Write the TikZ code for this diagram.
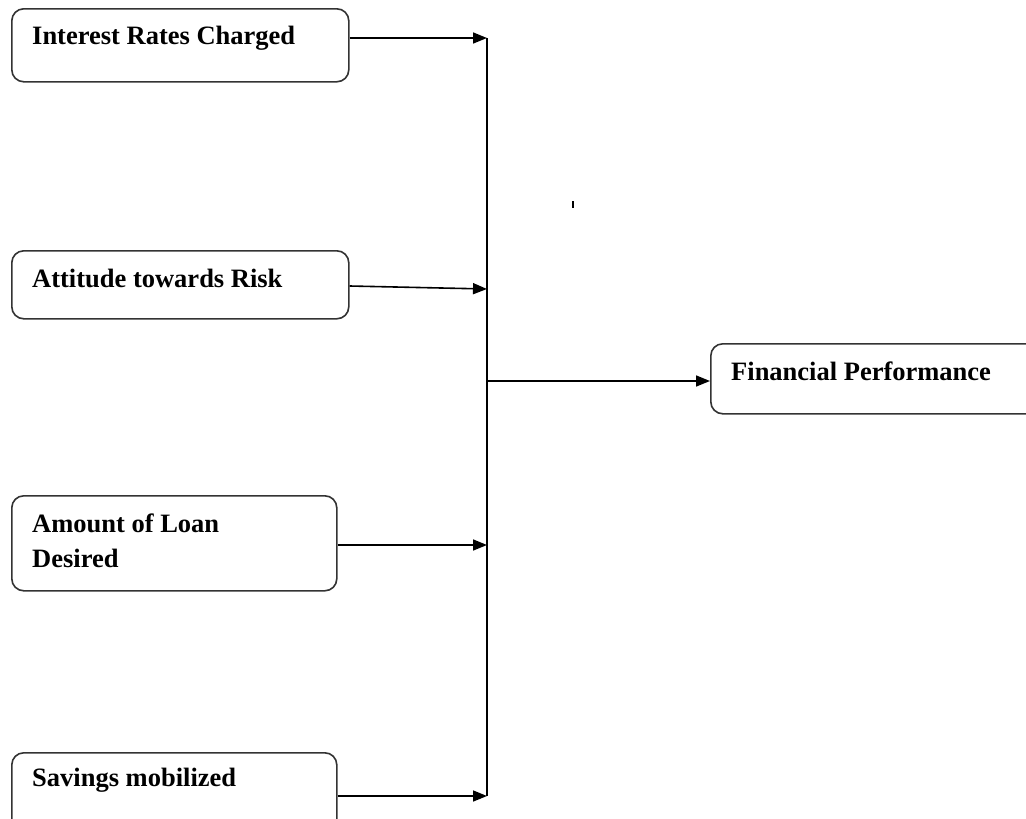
\documentclass[tikz,border=0pt]{standalone}
\usepackage{fontspec}
\setmainfont{Liberation Serif}
\usetikzlibrary{arrows.meta}
\begin{document}
\begin{tikzpicture}[x=1pt,y=-1pt,
  box/.style={draw=black!80, line width=1.6pt, rounded corners=12pt, anchor=north west, inner sep=0pt},
  txt/.style={anchor=base west, font=\bfseries\fontsize{26.5}{30}\selectfont, inner sep=0pt, align=left},
  arr/.style={line width=1.6pt, -{Triangle[length=14pt,width=11pt]}},
  ln/.style={line width=1.6pt}]
\clip (0,0) rectangle (1026,819);
\useasboundingbox (0,0) rectangle (1026,819);
\fill[white] (0,0) rectangle (1026,819);
% boxes
\node[box, minimum width=337pt, minimum height=73pt] (ir) at (11,8) {};
\node[box, minimum width=337pt, minimum height=68pt] (ar) at (11,250) {};
\node[box, minimum width=325pt, minimum height=95pt] (al) at (11,495) {};
\node[box, minimum width=325pt, minimum height=90pt] (sm) at (11,752) {};
\node[box, minimum width=340pt, minimum height=70pt] (fp) at (710,343) {};
% texts
\node[txt] (t1) at (32,44) {Interest Rates Charged};
\node[txt] (t2) at (32,287) {Attitude towards Risk};
\node[txt] (t3) at (32,567) {Amount of Loan\\[5pt]Desired};
\node[txt] (t4) at (32,786) {Savings mobilized};
\node[txt] (t5) at (731,380) {Financial Performance};
% bus
\coordinate (top) at (487,38);
\coordinate (bot) at (487,796);
\coordinate (mid) at (487,381);
\draw[ln] (top) -- (bot);
\draw[arr] (ir.east |- 0,38) -- (top);
\draw[arr] (ar.east |- 0,286) -- (487,289);
\draw[arr] (al.east |- 0,545) -- (487,545);
\draw[arr] (sm.east |- 0,796) -- (bot);
\draw[arr] (mid) -- (fp.west |- mid);
% stray tick
\draw[line width=1.5pt] (573,201) -- (573,208);
\end{tikzpicture}
\end{document}
